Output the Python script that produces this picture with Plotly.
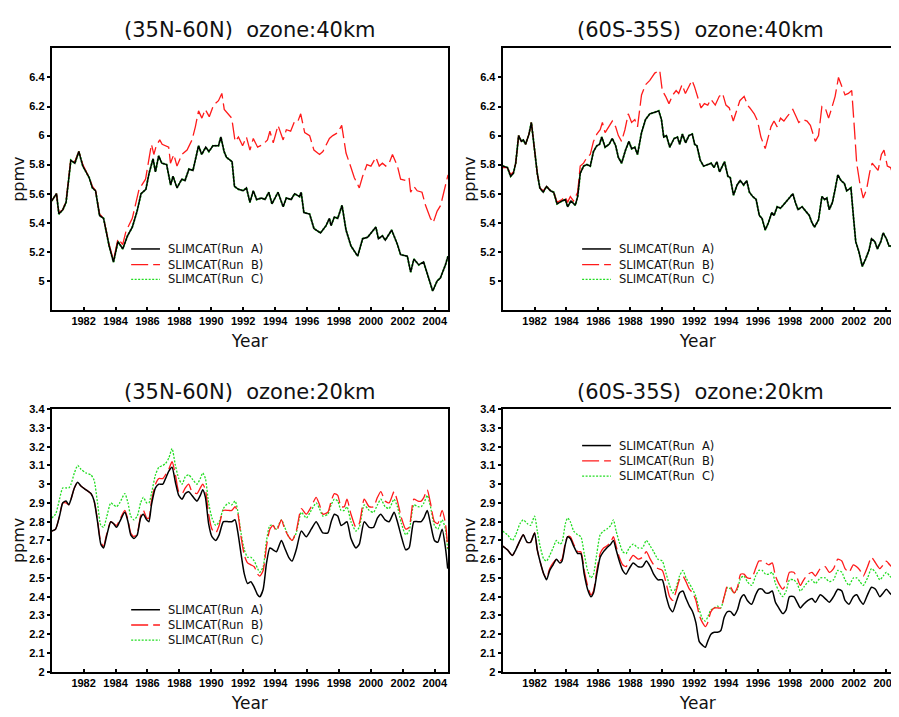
import plotly.graph_objects as go

# ---------------- data ----------------
run_names = ["SLIMCAT(Run\u00a0 A)", "SLIMCAT(Run\u00a0 B)", "SLIMCAT(Run\u00a0 C)"]
panel_titles = ["(35N-60N)\u00a0 ozone:40km", "(60S-35S)\u00a0 ozone:40km",
                "(35N-60N)\u00a0 ozone:20km", "(60S-35S)\u00a0 ozone:20km"]
x_ticks = [1982, 1984, 1986, 1988, 1990, 1992, 1994, 1996, 1998, 2000, 2002, 2004]
y_ticks_40 = [5.0, 5.2, 5.4, 5.6, 5.8, 6.0, 6.2, 6.4]
y_ticks_20 = [2.0, 2.1, 2.2, 2.3, 2.4, 2.5, 2.6, 2.7, 2.8, 2.9, 3.0, 3.1, 3.2, 3.3, 3.4]

# (35N-60N) 40 km
nh40_years_ac = [1980.0, 1980.3, 1980.45, 1980.7, 1980.9, 1981.2, 1981.45, 1981.7, 1981.95, 1982.35,
                 1982.55, 1982.75, 1983.0, 1983.25, 1983.6, 1983.87, 1984.15, 1984.45, 1984.75, 1985.05,
                 1985.35, 1985.6, 1985.9, 1986.1, 1986.35, 1986.5, 1986.7, 1986.9, 1987.2, 1987.45,
                 1987.6, 1987.85, 1988.15, 1988.35, 1988.6, 1988.85, 1989.2, 1989.4, 1989.65, 1989.85,
                 1990.1, 1990.45, 1990.6, 1990.8, 1990.95, 1991.3, 1991.45, 1991.7, 1992.0, 1992.2,
                 1992.42, 1992.63, 1992.84, 1993.15, 1993.36, 1993.6, 1993.8, 1994.18, 1994.5, 1994.7,
                 1995.0, 1995.22, 1995.53, 1995.63, 1995.8, 1996.16, 1996.43, 1996.84, 1997.19, 1997.4,
                 1997.5, 1997.71, 1997.92, 1998.19, 1998.44, 1998.75, 1999.17, 1999.48, 1999.79, 2000.31,
                 2000.47, 2000.72, 2000.9, 2001.3, 2001.66, 2001.86, 2002.28, 2002.49, 2002.69, 2003.0,
                 2003.3, 2003.5, 2003.73, 2003.87, 2004.15, 2004.35, 2004.67, 2004.83]
nh40_run_a = [5.55, 5.60, 5.46, 5.49, 5.54, 5.83, 5.81, 5.89, 5.79, 5.71,
              5.64, 5.62, 5.45, 5.43, 5.24, 5.13, 5.27, 5.22, 5.31, 5.37,
              5.48, 5.60, 5.63, 5.74, 5.84, 5.75, 5.86, 5.81, 5.80, 5.66,
              5.72, 5.64, 5.70, 5.69, 5.77, 5.76, 5.93, 5.87, 5.92, 5.89,
              5.93, 5.93, 5.99, 5.89, 5.85, 5.82, 5.65, 5.63, 5.62, 5.64,
              5.54, 5.62, 5.56, 5.57, 5.56, 5.61, 5.53, 5.61, 5.51, 5.57,
              5.56, 5.60, 5.58, 5.61, 5.47, 5.46, 5.36, 5.33, 5.38, 5.43,
              5.38, 5.44, 5.43, 5.52, 5.35, 5.24, 5.17, 5.29, 5.30, 5.37,
              5.29, 5.31, 5.28, 5.35, 5.25, 5.18, 5.17, 5.06, 5.15, 5.11,
              5.13, 5.06, 4.98, 4.93, 5.00, 5.02, 5.11, 5.17]
nh40_run_c = [5.55, 5.60, 5.46, 5.49, 5.54, 5.83, 5.81, 5.89, 5.79, 5.71,
              5.64, 5.62, 5.45, 5.43, 5.24, 5.13, 5.27, 5.22, 5.31, 5.37,
              5.48, 5.60, 5.63, 5.74, 5.84, 5.75, 5.86, 5.81, 5.80, 5.66,
              5.72, 5.64, 5.70, 5.69, 5.77, 5.76, 5.93, 5.87, 5.92, 5.89,
              5.93, 5.93, 5.99, 5.89, 5.85, 5.82, 5.65, 5.63, 5.62, 5.64,
              5.54, 5.62, 5.56, 5.57, 5.56, 5.61, 5.53, 5.61, 5.51, 5.57,
              5.56, 5.60, 5.58, 5.61, 5.47, 5.46, 5.36, 5.33, 5.38, 5.43,
              5.38, 5.44, 5.43, 5.52, 5.35, 5.24, 5.17, 5.29, 5.30, 5.37,
              5.29, 5.31, 5.28, 5.35, 5.25, 5.18, 5.17, 5.06, 5.15, 5.11,
              5.13, 5.06, 4.98, 4.93, 5.00, 5.02, 5.11, 5.17]
nh40_years_b = [1980.0, 1980.3, 1980.45, 1980.7, 1980.9, 1981.2, 1981.45, 1981.7, 1981.95, 1982.35,
                1982.55, 1982.75, 1983.0, 1983.25, 1983.6, 1983.87, 1984.15, 1984.45, 1984.65, 1985.05,
                1985.47, 1985.88, 1986.25, 1986.4, 1986.55, 1986.77, 1986.92, 1987.33, 1987.44, 1987.65,
                1987.85, 1988.16, 1988.48, 1988.79, 1989.0, 1989.2, 1989.41, 1989.62, 1989.87, 1990.14,
                1990.45, 1990.66, 1990.81, 1991.06, 1991.28, 1991.49, 1991.7, 1991.96, 1992.2, 1992.42,
                1992.63, 1992.9, 1993.25, 1993.52, 1993.67, 1993.88, 1994.18, 1994.5, 1994.7, 1994.97,
                1995.22, 1995.43, 1995.6, 1995.85, 1996.16, 1996.43, 1996.78, 1996.99, 1997.19, 1997.4,
                1997.61, 1997.92, 1998.17, 1998.44, 1998.75, 1998.96, 1999.27, 1999.48, 1999.75, 2000.0,
                2000.31, 2000.52, 2000.72, 2000.93, 2001.14, 2001.35, 2001.66, 2001.86, 2002.18, 2002.39,
                2002.49, 2002.69, 2002.9, 2003.2, 2003.42, 2003.73, 2003.9, 2004.15, 2004.37, 2004.68,
                2004.83]
nh40_run_b = [5.55, 5.60, 5.47, 5.49, 5.55, 5.84, 5.82, 5.89, 5.80, 5.71,
              5.65, 5.62, 5.46, 5.43, 5.25, 5.14, 5.29, 5.25, 5.34, 5.43,
              5.63, 5.70, 5.94, 5.87, 5.93, 5.97, 5.94, 5.92, 5.81, 5.87,
              5.79, 5.87, 5.90, 5.97, 6.06, 6.17, 6.12, 6.18, 6.13, 6.21,
              6.24, 6.29, 6.18, 6.15, 6.12, 5.96, 5.99, 5.93, 5.99, 5.90,
              5.98, 5.92, 5.94, 5.97, 6.03, 5.95, 6.07, 5.97, 6.04, 6.03,
              6.10, 6.10, 6.15, 6.02, 6.00, 5.90, 5.87, 5.89, 5.94, 5.98,
              6.00, 6.02, 6.07, 5.88, 5.78, 5.71, 5.64, 5.72, 5.80, 5.79,
              5.85, 5.79, 5.81, 5.79, 5.81, 5.87, 5.79, 5.70, 5.69, 5.71,
              5.61, 5.65, 5.62, 5.61, 5.52, 5.43, 5.40, 5.48, 5.52, 5.65,
              5.73]

# (60S-35S) 40 km
sh40_years_ac = [1980.0, 1980.3, 1980.5, 1980.67, 1980.82, 1981.0, 1981.17, 1981.3, 1981.44, 1981.65,
                 1981.8, 1982.0, 1982.17, 1982.33, 1982.54, 1982.75, 1983.0, 1983.2, 1983.41, 1983.72,
                 1983.93, 1984.07, 1984.28, 1984.55, 1984.7, 1984.86, 1985.07, 1985.28, 1985.49, 1985.69,
                 1985.9, 1986.07, 1986.21, 1986.42, 1986.67, 1986.87, 1987.08, 1987.25, 1987.45, 1987.7,
                 1987.91, 1988.08, 1988.28, 1988.45, 1988.7, 1988.95, 1989.22, 1989.53, 1989.78, 1989.95,
                 1990.09, 1990.26, 1990.47, 1990.74, 1990.95, 1991.09, 1991.26, 1991.46, 1991.67, 1991.88,
                 1992.03, 1992.17, 1992.38, 1992.59, 1992.86, 1993.07, 1993.24, 1993.42, 1993.59, 1993.9,
                 1994.11, 1994.26, 1994.46, 1994.69, 1994.88, 1995.1, 1995.29, 1995.46, 1995.67, 1995.88,
                 1996.08, 1996.25, 1996.45, 1996.65, 1996.86, 1997.0, 1997.2, 1997.41, 1997.72, 1997.97,
                 1998.18, 1998.34, 1998.51, 1998.76, 1998.96, 1999.21, 1999.38, 1999.54, 1999.79, 2000.0,
                 2000.17, 2000.31, 2000.46, 2000.66, 2000.83, 2001.0, 2001.2, 2001.41, 2001.55, 2001.82,
                 2001.97, 2002.12, 2002.32, 2002.53, 2002.74, 2002.95, 2003.11, 2003.32, 2003.48, 2003.69,
                 2003.84, 2004.04, 2004.21, 2004.36, 2004.5]
sh40_run_a = [5.79, 5.78, 5.72, 5.74, 5.81, 6.00, 5.96, 5.97, 5.94, 6.01,
              6.09, 5.88, 5.74, 5.64, 5.61, 5.65, 5.62, 5.61, 5.53, 5.55,
              5.56, 5.51, 5.55, 5.52, 5.58, 5.74, 5.79, 5.80, 5.79, 5.89,
              5.93, 5.94, 5.99, 5.92, 5.94, 5.98, 5.93, 5.85, 5.81, 5.90,
              5.96, 5.91, 5.92, 5.87, 6.02, 6.11, 6.15, 6.16, 6.17, 6.11,
              5.99, 6.00, 5.92, 5.98, 5.99, 5.94, 6.01, 5.95, 6.00, 6.01,
              5.94, 5.93, 5.83, 5.79, 5.80, 5.81, 5.78, 5.82, 5.75, 5.82,
              5.72, 5.71, 5.59, 5.66, 5.69, 5.66, 5.69, 5.61, 5.58, 5.56,
              5.45, 5.43, 5.35, 5.40, 5.47, 5.45, 5.51, 5.50, 5.54, 5.57,
              5.60, 5.54, 5.49, 5.51, 5.48, 5.45, 5.40, 5.37, 5.42, 5.58,
              5.56, 5.57, 5.49, 5.54, 5.63, 5.73, 5.69, 5.67, 5.62, 5.64,
              5.45, 5.27, 5.20, 5.10, 5.15, 5.21, 5.29, 5.27, 5.22, 5.27,
              5.33, 5.29, 5.24, 5.24, 5.18]
sh40_run_c = [5.79, 5.78, 5.72, 5.74, 5.81, 6.00, 5.96, 5.97, 5.94, 6.01,
              6.09, 5.88, 5.74, 5.64, 5.61, 5.65, 5.62, 5.61, 5.53, 5.55,
              5.56, 5.51, 5.55, 5.52, 5.58, 5.74, 5.79, 5.80, 5.79, 5.89,
              5.93, 5.94, 5.99, 5.92, 5.94, 5.98, 5.93, 5.85, 5.81, 5.90,
              5.96, 5.91, 5.92, 5.87, 6.02, 6.11, 6.15, 6.16, 6.17, 6.11,
              5.99, 6.00, 5.92, 5.98, 5.99, 5.94, 6.01, 5.95, 6.00, 6.01,
              5.94, 5.93, 5.83, 5.79, 5.80, 5.81, 5.78, 5.82, 5.75, 5.82,
              5.72, 5.71, 5.59, 5.66, 5.69, 5.66, 5.69, 5.61, 5.58, 5.56,
              5.45, 5.43, 5.35, 5.40, 5.47, 5.45, 5.51, 5.50, 5.54, 5.57,
              5.60, 5.54, 5.49, 5.51, 5.48, 5.45, 5.40, 5.37, 5.42, 5.58,
              5.56, 5.57, 5.49, 5.54, 5.63, 5.73, 5.69, 5.67, 5.62, 5.64,
              5.45, 5.27, 5.20, 5.10, 5.15, 5.21, 5.29, 5.27, 5.22, 5.27,
              5.33, 5.29, 5.24, 5.24, 5.18]
sh40_years_b = [1980.0, 1980.3, 1980.5, 1980.67, 1980.82, 1981.0, 1981.17, 1981.3, 1981.44, 1981.65,
                1981.8, 1982.0, 1982.17, 1982.33, 1982.54, 1982.75, 1983.0, 1983.2, 1983.41, 1983.72,
                1983.93, 1984.07, 1984.24, 1984.44, 1984.7, 1984.86, 1985.07, 1985.28, 1985.49, 1985.69,
                1985.9, 1986.11, 1986.25, 1986.42, 1986.62, 1986.87, 1987.08, 1987.25, 1987.45, 1987.66,
                1987.87, 1988.08, 1988.28, 1988.45, 1988.7, 1988.95, 1989.22, 1989.53, 1989.84, 1990.0,
                1990.21, 1990.42, 1990.66, 1990.87, 1991.03, 1991.24, 1991.45, 1991.66, 1991.86, 1992.01,
                1992.22, 1992.43, 1992.64, 1992.85, 1993.05, 1993.32, 1993.57, 1993.78, 1993.99, 1994.2,
                1994.45, 1994.66, 1994.86, 1995.13, 1995.34, 1995.49, 1995.76, 1995.97, 1996.18, 1996.45,
                1996.6, 1996.81, 1997.0, 1997.2, 1997.41, 1997.62, 1997.82, 1998.18, 1998.39, 1998.55,
                1998.8, 1999.07, 1999.28, 1999.59, 1999.79, 2000.0, 2000.21, 2000.42, 2000.62, 2000.83,
                2001.04, 2001.25, 2001.45, 2001.66, 2001.87, 2002.03, 2002.18, 2002.38, 2002.59, 2002.8,
                2003.0, 2003.15, 2003.35, 2003.52, 2003.73, 2003.89, 2004.1, 2004.3, 2004.5]
sh40_run_b = [5.78, 5.78, 5.73, 5.75, 5.81, 6.00, 5.96, 5.97, 5.94, 6.01,
              6.09, 5.88, 5.74, 5.64, 5.62, 5.65, 5.62, 5.61, 5.54, 5.56,
              5.58, 5.54, 5.58, 5.55, 5.61, 5.79, 5.81, 5.85, 5.87, 5.96,
              6.01, 6.04, 6.09, 6.02, 6.06, 6.10, 6.06, 6.00, 5.96, 6.04,
              6.15, 6.09, 6.11, 6.06, 6.28, 6.35, 6.38, 6.43, 6.45, 6.31,
              6.27, 6.22, 6.28, 6.31, 6.29, 6.35, 6.29, 6.34, 6.38, 6.34,
              6.27, 6.19, 6.22, 6.21, 6.25, 6.21, 6.27, 6.29, 6.21, 6.19,
              6.10, 6.17, 6.24, 6.27, 6.21, 6.19, 6.15, 6.10, 5.99, 5.91,
              5.97, 6.06, 6.10, 6.06, 6.12, 6.10, 6.13, 6.18, 6.13, 6.09,
              6.11, 6.10, 6.07, 5.96, 6.00, 6.20, 6.19, 6.12, 6.19, 6.27,
              6.40, 6.34, 6.28, 6.29, 6.31, 6.06, 5.81, 5.67, 5.57, 5.63,
              5.75, 5.81, 5.78, 5.76, 5.87, 5.90, 5.79, 5.78, 5.72]

# (35N-60N) 20 km
nh20_years = [1980.0, 1980.24, 1980.49, 1980.69, 1980.9, 1981.07, 1981.21, 1981.42, 1981.63, 1981.83,
              1982.15, 1982.46, 1982.66, 1982.87, 1983.08, 1983.25, 1983.43, 1983.7, 1983.87, 1984.06,
              1984.26, 1984.58, 1984.78, 1984.95, 1985.15, 1985.36, 1985.57, 1985.74, 1985.95, 1986.09,
              1986.25, 1986.5, 1986.71, 1986.96, 1987.13, 1987.34, 1987.54, 1987.75, 1987.96, 1988.17,
              1988.37, 1988.58, 1988.79, 1989.1, 1989.31, 1989.46, 1989.63, 1989.83, 1990.04, 1990.28,
              1990.49, 1990.76, 1991.07, 1991.28, 1991.49, 1991.65, 1991.86, 1992.07, 1992.27, 1992.48,
              1992.69, 1992.9, 1993.04, 1993.25, 1993.46, 1993.67, 1993.87, 1994.08, 1994.39, 1994.6,
              1994.85, 1995.06, 1995.32, 1995.64, 1995.95, 1996.26, 1996.57, 1996.78, 1996.99, 1997.3,
              1997.51, 1997.71, 1997.92, 1998.13, 1998.33, 1998.5, 1998.75, 1999.06, 1999.27, 1999.58,
              1999.89, 2000.16, 2000.41, 2000.62, 2000.89, 2001.14, 2001.45, 2001.66, 2001.91, 2002.18,
              2002.39, 2002.69, 2002.94, 2003.15, 2003.32, 2003.53, 2003.73, 2003.98, 2004.19, 2004.46,
              2004.67, 2004.81]
nh20_run_a = [2.75, 2.76, 2.83, 2.90, 2.91, 2.89, 2.92, 2.98, 3.01, 2.99,
              2.97, 2.95, 2.91, 2.80, 2.68, 2.66, 2.72, 2.80, 2.79, 2.77,
              2.80, 2.85, 2.80, 2.73, 2.71, 2.73, 2.82, 2.84, 2.81, 2.80,
              2.89, 2.98, 3.00, 3.00, 3.03, 3.07, 3.09, 3.01, 2.94, 2.92,
              2.95, 2.96, 2.94, 2.91, 2.94, 2.97, 2.93, 2.79, 2.72, 2.70,
              2.73, 2.80, 2.80, 2.80, 2.81, 2.75, 2.63, 2.52, 2.47, 2.48,
              2.45, 2.41, 2.40, 2.44, 2.58, 2.66, 2.65, 2.64, 2.70, 2.66,
              2.61, 2.59, 2.65, 2.75, 2.72, 2.76, 2.80, 2.77, 2.74, 2.74,
              2.80, 2.84, 2.83, 2.78, 2.79, 2.80, 2.71, 2.66, 2.68, 2.80,
              2.77, 2.77, 2.82, 2.84, 2.81, 2.80, 2.85, 2.80, 2.72, 2.65,
              2.66, 2.80, 2.80, 2.80, 2.82, 2.86, 2.79, 2.70, 2.69, 2.76,
              2.66, 2.55]
nh20_run_b = [2.75, 2.76, 2.83, 2.90, 2.90, 2.89, 2.92, 2.98, 3.01, 2.99,
              2.97, 2.95, 2.91, 2.81, 2.69, 2.67, 2.73, 2.80, 2.79, 2.78,
              2.81, 2.86, 2.81, 2.74, 2.72, 2.74, 2.83, 2.86, 2.82, 2.82,
              2.91, 3.00, 3.03, 3.03, 3.05, 3.08, 3.12, 3.05, 2.96, 2.95,
              2.98, 3.00, 2.96, 2.95, 2.98, 3.00, 2.97, 2.84, 2.76, 2.74,
              2.78, 2.86, 2.86, 2.86, 2.88, 2.85, 2.72, 2.62, 2.58, 2.57,
              2.56, 2.52, 2.51, 2.54, 2.67, 2.76, 2.78, 2.75, 2.81, 2.76,
              2.72, 2.70, 2.75, 2.87, 2.84, 2.88, 2.93, 2.89, 2.84, 2.85,
              2.91, 2.95, 2.94, 2.88, 2.88, 2.92, 2.84, 2.77, 2.79, 2.92,
              2.88, 2.88, 2.93, 2.96, 2.91, 2.90, 2.96, 2.91, 2.82, 2.76,
              2.77, 2.92, 2.91, 2.91, 2.93, 2.97, 2.90, 2.80, 2.79, 2.86,
              2.79, 2.66]
nh20_run_c = [2.82, 2.84, 2.92, 2.98, 2.98, 2.98, 3.00, 3.06, 3.10, 3.08,
              3.06, 3.05, 3.02, 2.90, 2.78, 2.77, 2.82, 2.90, 2.89, 2.88,
              2.90, 2.95, 2.90, 2.83, 2.81, 2.83, 2.90, 2.93, 2.90, 2.90,
              2.95, 3.05, 3.09, 3.10, 3.11, 3.14, 3.19, 3.10, 3.03, 3.00,
              3.04, 3.05, 3.03, 3.00, 3.03, 3.06, 3.03, 2.90, 2.82, 2.78,
              2.80, 2.87, 2.90, 2.89, 2.91, 2.86, 2.74, 2.65, 2.61, 2.61,
              2.59, 2.55, 2.53, 2.56, 2.70, 2.78, 2.78, 2.76, 2.81, 2.77,
              2.72, 2.70, 2.74, 2.85, 2.82, 2.86, 2.90, 2.87, 2.83, 2.84,
              2.89, 2.92, 2.91, 2.86, 2.86, 2.88, 2.80, 2.75, 2.77, 2.89,
              2.86, 2.85, 2.89, 2.92, 2.88, 2.87, 2.92, 2.88, 2.79, 2.73,
              2.75, 2.89, 2.88, 2.88, 2.90, 2.94, 2.88, 2.78, 2.76, 2.81,
              2.76, 2.65]

# (60S-35S) 20 km
sh20_years = [1980.0, 1980.3, 1980.61, 1980.82, 1981.09, 1981.29, 1981.54, 1981.75, 1982.0, 1982.17,
              1982.37, 1982.58, 1982.75, 1982.95, 1983.16, 1983.37, 1983.58, 1983.72, 1983.93, 1984.07,
              1984.24, 1984.45, 1984.7, 1984.9, 1985.11, 1985.32, 1985.53, 1985.69, 1985.9, 1986.11,
              1986.32, 1986.52, 1986.77, 1986.94, 1987.11, 1987.31, 1987.52, 1987.73, 1987.93, 1988.18,
              1988.49, 1988.76, 1989.0, 1989.25, 1989.46, 1989.73, 1990.0, 1990.25, 1990.46, 1990.66,
              1990.87, 1991.08, 1991.29, 1991.49, 1991.7, 1991.9, 1992.11, 1992.32, 1992.53, 1992.7,
              1992.84, 1993.05, 1993.26, 1993.46, 1993.67, 1993.88, 1994.09, 1994.29, 1994.5, 1994.71,
              1994.91, 1995.12, 1995.33, 1995.6, 1995.85, 1996.05, 1996.26, 1996.47, 1996.68, 1996.89,
              1997.09, 1997.3, 1997.55, 1997.76, 1997.97, 1998.24, 1998.45, 1998.65, 1998.86, 1999.13,
              1999.38, 1999.59, 1999.9, 2000.21, 2000.46, 2000.73, 2001.0, 2001.25, 2001.45, 2001.7,
              2001.97, 2002.18, 2002.39, 2002.59, 2002.86, 2003.11, 2003.36, 2003.63, 2003.84, 2004.04,
              2004.25, 2004.5]
sh20_run_a = [2.67, 2.65, 2.62, 2.65, 2.70, 2.73, 2.69, 2.69, 2.74, 2.65,
              2.58, 2.52, 2.49, 2.54, 2.57, 2.60, 2.58, 2.59, 2.68, 2.72,
              2.71, 2.67, 2.63, 2.63, 2.52, 2.44, 2.40, 2.42, 2.52, 2.61,
              2.64, 2.66, 2.68, 2.70, 2.65, 2.59, 2.54, 2.52, 2.55, 2.58,
              2.56, 2.56, 2.59, 2.56, 2.52, 2.49, 2.49, 2.40, 2.34, 2.32,
              2.37, 2.42, 2.43, 2.39, 2.35, 2.32, 2.26, 2.16, 2.14, 2.13,
              2.16, 2.20, 2.21, 2.21, 2.22, 2.29, 2.32, 2.32, 2.30, 2.33,
              2.39, 2.41, 2.38, 2.36, 2.41, 2.44, 2.44, 2.42, 2.42, 2.43,
              2.37, 2.34, 2.31, 2.33, 2.40, 2.40, 2.37, 2.34, 2.36, 2.38,
              2.39, 2.37, 2.41, 2.39, 2.37, 2.40, 2.44, 2.43, 2.38, 2.36,
              2.40, 2.41, 2.38, 2.36, 2.41, 2.45, 2.44, 2.40, 2.42, 2.44,
              2.42, 2.40]
sh20_run_b = [2.67, 2.65, 2.62, 2.65, 2.70, 2.73, 2.69, 2.69, 2.74, 2.65,
              2.58, 2.52, 2.50, 2.55, 2.58, 2.60, 2.59, 2.60, 2.69, 2.72,
              2.72, 2.68, 2.64, 2.64, 2.54, 2.46, 2.41, 2.43, 2.54, 2.63,
              2.66, 2.67, 2.69, 2.72, 2.67, 2.61, 2.57, 2.56, 2.59, 2.62,
              2.60, 2.61, 2.64, 2.60, 2.57, 2.55, 2.54, 2.47, 2.40, 2.38,
              2.43, 2.49, 2.51, 2.48, 2.44, 2.42, 2.38, 2.30, 2.26, 2.24,
              2.26, 2.32, 2.34, 2.34, 2.34, 2.40, 2.46, 2.45, 2.42, 2.45,
              2.52, 2.52, 2.50, 2.50, 2.55, 2.59, 2.59, 2.58, 2.57, 2.58,
              2.51, 2.47, 2.44, 2.47, 2.53, 2.53, 2.50, 2.46, 2.49, 2.52,
              2.53, 2.51, 2.55, 2.56, 2.53, 2.55, 2.60, 2.59, 2.55, 2.53,
              2.57, 2.56, 2.54, 2.51, 2.56, 2.61, 2.58, 2.55, 2.57, 2.59,
              2.57, 2.55]
sh20_run_c = [2.75, 2.73, 2.70, 2.73, 2.79, 2.81, 2.79, 2.78, 2.83, 2.75,
              2.66, 2.60, 2.59, 2.62, 2.66, 2.70, 2.68, 2.69, 2.79, 2.82,
              2.80, 2.75, 2.73, 2.72, 2.63, 2.54, 2.50, 2.52, 2.63, 2.73,
              2.75, 2.76, 2.78, 2.81, 2.75, 2.69, 2.64, 2.63, 2.66, 2.68,
              2.66, 2.66, 2.70, 2.67, 2.64, 2.60, 2.59, 2.52, 2.46, 2.42,
              2.45, 2.51, 2.54, 2.50, 2.47, 2.44, 2.40, 2.33, 2.28, 2.27,
              2.29, 2.33, 2.34, 2.35, 2.34, 2.40, 2.45, 2.44, 2.42, 2.44,
              2.50, 2.51, 2.48, 2.46, 2.51, 2.54, 2.54, 2.52, 2.52, 2.53,
              2.47, 2.43, 2.40, 2.43, 2.49, 2.49, 2.47, 2.43, 2.45, 2.48,
              2.49, 2.47, 2.50, 2.50, 2.48, 2.49, 2.54, 2.53, 2.49, 2.46,
              2.50, 2.50, 2.48, 2.46, 2.50, 2.55, 2.53, 2.49, 2.51, 2.53,
              2.51, 2.49]

# ---------------- figure ----------------
# The page body keeps the browser's default 8 px margin, so the figure is
# sized to fill the rest of the 899x717 window and positions are given in
# window pixels minus that offset.
OFF = 8
W, H = 899 - OFF, 717 - OFF
BLACK, RED, GREEN = "#000000", "#ff1a1a", "#22dd22"
styles = [dict(color=BLACK, width=1.5, dash="solid"),
          dict(color=RED, width=1.3, dash="17px,5px"),
          dict(color=GREEN, width=1.3, dash="2px,1.5px")]


def px_x(p):
    return (p - OFF) / W


def px_y(p):
    return 1 - (p - OFF) / H


PX_PER_YEAR = 16.07
dom_x = [[px_x(52), px_x(451)], [px_x(506), 1.0], [px_x(52), px_x(451)], [px_x(506), 1.0]]
dom_y = [[px_y(309), px_y(43)], [px_y(309), px_y(43)], [px_y(677), px_y(410)], [px_y(677), px_y(410)]]
right_end = 1980 + (899 - 506) / PX_PER_YEAR
x_ranges = [[1980, 2004.83], [1980, right_end], [1980, 2004.83], [1980, right_end]]
y_ranges = [[4.8, 6.6], [4.8, 6.6], [2.0, 3.4], [2.0, 3.4]]
y_tickvals = [y_ticks_40, y_ticks_40, y_ticks_20, y_ticks_20]

panels = [
    [(nh40_years_ac, nh40_run_a), (nh40_years_b, nh40_run_b), (nh40_years_ac, nh40_run_c)],
    [(sh40_years_ac, sh40_run_a), (sh40_years_b, sh40_run_b), (sh40_years_ac, sh40_run_c)],
    [(nh20_years, nh20_run_a), (nh20_years, nh20_run_b), (nh20_years, nh20_run_c)],
    [(sh20_years, sh20_run_a), (sh20_years, sh20_run_b), (sh20_years, sh20_run_c)],
]

fig = go.Figure()
for i, series in enumerate(panels):
    suffix = "" if i == 0 else str(i + 1)
    # Run C is drawn first so that, where it coincides with Run A at 40 km,
    # the black line stays on top with only a green fringe showing.
    for k in (2, 1, 0):
        xs, ys = series[k]
        n = min(len(xs), len(ys))
        line = dict(styles[k])
        if i < 2 and k == 2:
            line["width"] = 2.0
        if i >= 2:
            line.update(shape="spline", smoothing=0.6)
        fig.add_trace(go.Scatter(x=xs[:n], y=ys[:n], mode="lines", line=line,
                                 name=run_names[k], showlegend=False,
                                 xaxis="x" + suffix, yaxis="y" + suffix))

tick_font = dict(family="Liberation Sans, Arial, sans-serif", size=11, color="black", weight="bold")
title_font = dict(family="DejaVu Sans, sans-serif", size=17, color="#111111")
layout = dict(width=W, height=H, margin=dict(l=0, r=0, t=0, b=0), autosize=False,
              paper_bgcolor="white", plot_bgcolor="white", showlegend=False)
for i in range(4):
    suffix = "" if i == 0 else str(i + 1)
    right = i in (1, 3)
    layout["xaxis" + suffix] = dict(
        domain=dom_x[i], range=x_ranges[i], anchor="y" + suffix,
        tickvals=x_ticks, ticktext=[str(t) for t in x_ticks], tickfont=tick_font,
        ticks="inside", ticklen=3, tickwidth=1.5, tickcolor="black",
        ticklabeloverflow="allow",
        showline=True, linecolor="black", linewidth=2, mirror=True,
        showgrid=False, zeroline=False,
        title=dict(text="Year", font=title_font, standoff=9))
    layout["yaxis" + suffix] = dict(
        domain=dom_y[i], range=y_ranges[i], anchor="x" + suffix,
        tickvals=y_tickvals[i], ticktext=[("%g" % v) for v in y_tickvals[i]], tickfont=tick_font,
        ticks="outside", ticklen=3, tickwidth=1.5, tickcolor="black",
        showline=True, linecolor="black", linewidth=2, mirror=(not right),
        showgrid=False, zeroline=False,
        title=dict(text="ppmv", font=dict(family="DejaVu Sans, sans-serif", size=16, color="#111111"),
                   standoff=1))

annotations = []
title_cx = [251.5, 705.5, 251.5, 705.5]
title_cy = [24, 24, 392, 392]
for i in range(4):
    annotations.append(dict(text=panel_titles[i], x=px_x(title_cx[i]), y=px_y(title_cy[i]),
                            xref="paper", yref="paper", xanchor="center", yanchor="middle",
                            showarrow=False,
                            font=dict(family="DejaVu Sans, sans-serif", size=21, color="#111111")))

# legends (key line + label) for each panel
leg_x = [132, 586, 132, 586]
leg_rows = [[247, 263, 278], [247, 263, 278], [614, 629.5, 645], [447, 462.5, 478]]
shapes = []
for i in range(4):
    for k in range(3):
        yy = px_y(leg_rows[i][k])
        shapes.append(dict(type="line", xref="paper", yref="paper",
                           x0=px_x(leg_x[i]), x1=px_x(leg_x[i] + 29), y0=yy, y1=yy,
                           line=dict(color=styles[k]["color"], width=styles[k]["width"],
                                     dash=styles[k]["dash"])))
        annotations.append(dict(text=run_names[k], x=px_x(leg_x[i] + 35), y=yy,
                                xref="paper", yref="paper", xanchor="left", yanchor="middle",
                                showarrow=False,
                                font=dict(family="DejaVu Sans, sans-serif", size=11.5, color="#111111")))
layout["annotations"] = annotations
layout["shapes"] = shapes
fig.update_layout(**layout)
fig.write_html("out.html")
